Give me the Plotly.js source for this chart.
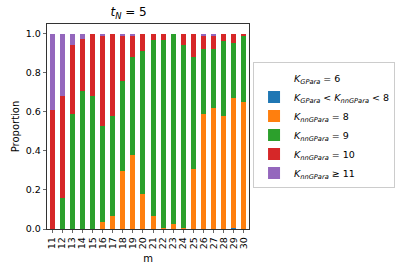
<!DOCTYPE html>
<html><head><meta charset="utf-8">
<script src="https://cdn.plot.ly/plotly-3.0.1.min.js"></script>
<style>body{margin:0;padding:0;background:#fff}#chart{width:407px;height:273px}</style>
</head><body><div id="chart"></div>
<script>
const categories = ["11","12","13","14","15","16","17","18","19","20","21","22","23","24","25","26","27","28","29","30"];
const k6      = [0,0,0,0,0,0,0,0,0,0,0,0,0,0,0,0,0,0,0,0];
const kBetween= [0,0,0,0,0,0,0,0,0,0,0,0,0,0,0,0,0,0,0.005,0];
const k8      = [0,0,0,0,0,0.036,0.067,0.299,0.379,0.177,0.067,0.007,0.027,0.007,0.307,0.589,0.619,0.578,0.666,0.650];
const k9      = [0,0.157,0.589,0.708,0.679,0.491,0.511,0.460,0.502,0.734,0.902,0.962,0.973,0.935,0.574,0.333,0.303,0.383,0.280,0.340];
const k10     = [0.607,0.522,0.351,0.263,0.321,0.461,0.422,0.231,0.107,0.089,0.031,0.031,0,0.058,0.119,0.066,0.066,0.039,0.049,0.010];
const k11     = [0.393,0.321,0.060,0.029,0,0.012,0,0.010,0.012,0,0,0,0,0,0,0.012,0.012,0,0,0];

const names = [
  "<i>K<sub>GPara</sub></i> = 6",
  "<i>K<sub>GPara</sub></i> &lt; <i>K<sub>nnGPara</sub></i> &lt; 8",
  "<i>K<sub>nnGPara</sub></i> = 8",
  "<i>K<sub>nnGPara</sub></i> = 9",
  "<i>K<sub>nnGPara</sub></i> = 10",
  "<i>K<sub>nnGPara</sub></i> ≥ 11"
];
const series = [k6, kBetween, k8, k9, k10, k11];
const colors = ["#ffffff","#1f77b4","#ff7f0e","#2ca02c","#d62728","#9467bd"];

const data = series.map((s,i)=>({
  type:"bar", x:categories, y:s, name:names[i],
  marker:{color:colors[i], line:{width:0}}
}));

const layout = {
  width:407, height:273,
  margin:{l:47,r:153,t:24,b:44,pad:0},
  barmode:"stack", bargap:0.5,
  paper_bgcolor:"#fff", plot_bgcolor:"#fff",
  font:{family:"DejaVu Sans", size:10, color:"#000"},
  title:{text:"<i>t<sub>N</sub></i> = 5", x:0.316, xanchor:"center", y:0.955, yanchor:"middle", font:{size:12}},
  xaxis:{type:"category", range:[-0.5,19.5], tickmode:"linear", tick0:0, dtick:1, tickangle:-90,
    tickfont:{size:9.5}, ticks:"outside", ticklen:3.5, tickwidth:0.8,
    showline:true, linecolor:"#000", linewidth:0.8, mirror:true, showgrid:false, zeroline:false,
    automargin:false, title:{text:"m", standoff:6, font:{size:10}}},
  yaxis:{range:[0,1.05], tickvals:[0,0.2,0.4,0.6,0.8,1.0], ticktext:["0.0","0.2","0.4","0.6","0.8","1.0"],
    tickfont:{size:9.5},
    ticks:"outside", ticklen:3.5, tickwidth:0.8, showline:true, linecolor:"#000", linewidth:0.8, mirror:true,
    showgrid:false, zeroline:false, automargin:false, title:{text:"Proportion", standoff:4, font:{size:10}}},
  legend:{x:1.02, xanchor:"left", y:0.505, yanchor:"middle", bordercolor:"#cccccc", borderwidth:1,
    traceorder:"normal", font:{size:9.5}, tracegroupgap:0, itemwidth:30}
};
Plotly.newPlot("chart", data, layout, {displayModeBar:false, staticPlot:true});
</script></body></html>
